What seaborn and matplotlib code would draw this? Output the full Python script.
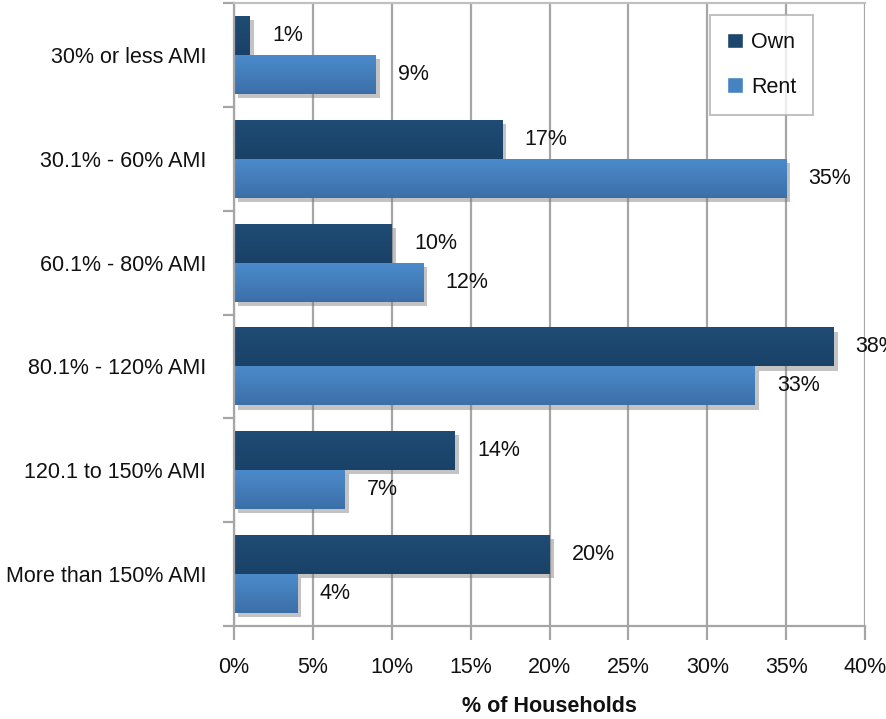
import matplotlib
matplotlib.use("Agg")
import matplotlib.pyplot as plt
import matplotlib.patheffects as pe
from matplotlib.colors import LinearSegmentedColormap
import numpy as np
import seaborn as sns
import pandas as pd

categories = ["30% or less AMI", "30.1% - 60% AMI", "60.1% - 80% AMI",
              "80.1% - 120% AMI", "120.1 to 150% AMI", "More than 150% AMI"]
own = [1, 17, 10, 38, 14, 20]
rent = [9, 35, 12, 33, 7, 4]
series = ["Own", "Rent"]
x_ticks = [0, 5, 10, 15, 20, 25, 30, 35, 40]

df = pd.DataFrame({
    "Income": categories * 2,
    "Tenure": ["Own"] * len(categories) + ["Rent"] * len(categories),
    "Share": own + rent,
})

sns.set_theme(style="white")
plt.rcParams["font.family"] = ["Liberation Sans", "DejaVu Sans"]
plt.rcParams["text.color"] = "#111111"

fig = plt.figure(figsize=(8.86, 7.19), dpi=100)
ax = fig.add_axes([234 / 886, 1 - 626 / 719, 631 / 886, 623 / 719])

palette = {"Own": "#1c466d", "Rent": "#4683c2"}
sns.barplot(data=df, y="Income", x="Share", hue="Tenure", hue_order=series,
            order=categories, palette=palette, width=0.75, orient="h",
            saturation=1, ax=ax, legend=True)

ax.set_xlim(0, 40)
ax.set_ylim(len(categories) - 0.5, -0.5)

shadow = [pe.SimplePatchShadow(offset=(3, -3), shadow_rgbFace="#7a7a7a", alpha=0.45), pe.Normal()]
rent_grad = LinearSegmentedColormap.from_list("rent_grad", ["#4b8bcb", "#3c6fa8"])
own_grad = LinearSegmentedColormap.from_list("own_grad", ["#1f4b74", "#1a4268"])
for cont, cmap in zip(ax.containers, [own_grad, rent_grad]):
    for bar in cont:
        bar.set_path_effects(shadow)
        bar.set_edgecolor("none")
        x0, y0 = bar.get_x(), bar.get_y()
        w, h = bar.get_width(), bar.get_height()
        grad = np.linspace(0, 1, 64).reshape(-1, 1)
        im = ax.imshow(grad, cmap=cmap, aspect="auto", interpolation="bicubic",
                       extent=(x0, x0 + w, y0 + h, y0), zorder=bar.get_zorder() + 0.1)
        im.set_clip_path(bar)
    ax.bar_label(cont, labels=[f"{v:.0f}%" for v in cont.datavalues],
                 padding=16, fontsize=15.5, color="#111111", clip_on=False)

ax.set_xlim(0, 40)
ax.set_ylim(len(categories) - 0.5, -0.5)
ax.set_xticks(x_ticks)
ax.set_xticklabels([f"{t}%" for t in x_ticks])
ax.xaxis.grid(True, color="#a6a6a6", linewidth=1.6)
ax.set_axisbelow(True)

ax.set_ylabel("")
ax.set_xlabel("% of Households", fontsize=15.5, fontweight="bold", labelpad=13,
              color="#111111")
ax.tick_params(axis="x", labelsize=15.5, length=10, width=1.6, color="#a6a6a6",
               labelcolor="#111111", direction="out", pad=12, bottom=True)
ax.tick_params(axis="y", labelsize=15.5, length=0, pad=20, left=False,
               labelcolor="#111111")
# category boundary ticks on the value axis
ax.set_yticks([i - 0.5 for i in range(len(categories) + 1)], minor=True)
ax.tick_params(axis="y", which="minor", length=8, width=1.6, color="#a6a6a6", left=True)

for side in ["left", "bottom"]:
    ax.spines[side].set_color("#a6a6a6")
    ax.spines[side].set_linewidth(1.6)
ax.spines["right"].set_visible(False)
ax.spines["top"].set_color("#c0c0c0")
ax.spines["top"].set_linewidth(1.6)

leg = ax.legend(title=None, loc="upper right", bbox_to_anchor=(0.918, 0.981),
                borderaxespad=0, fontsize=15.5, frameon=True, fancybox=False,
                handlelength=0.75, handleheight=0.75, handletextpad=0.35,
                labelspacing=1.1, borderpad=0.8, edgecolor="#b0b0b0")
leg.get_frame().set_linewidth(1.4)
for t in leg.get_texts():
    t.set_color("#111111")

fig.savefig("out.png", dpi=100)
